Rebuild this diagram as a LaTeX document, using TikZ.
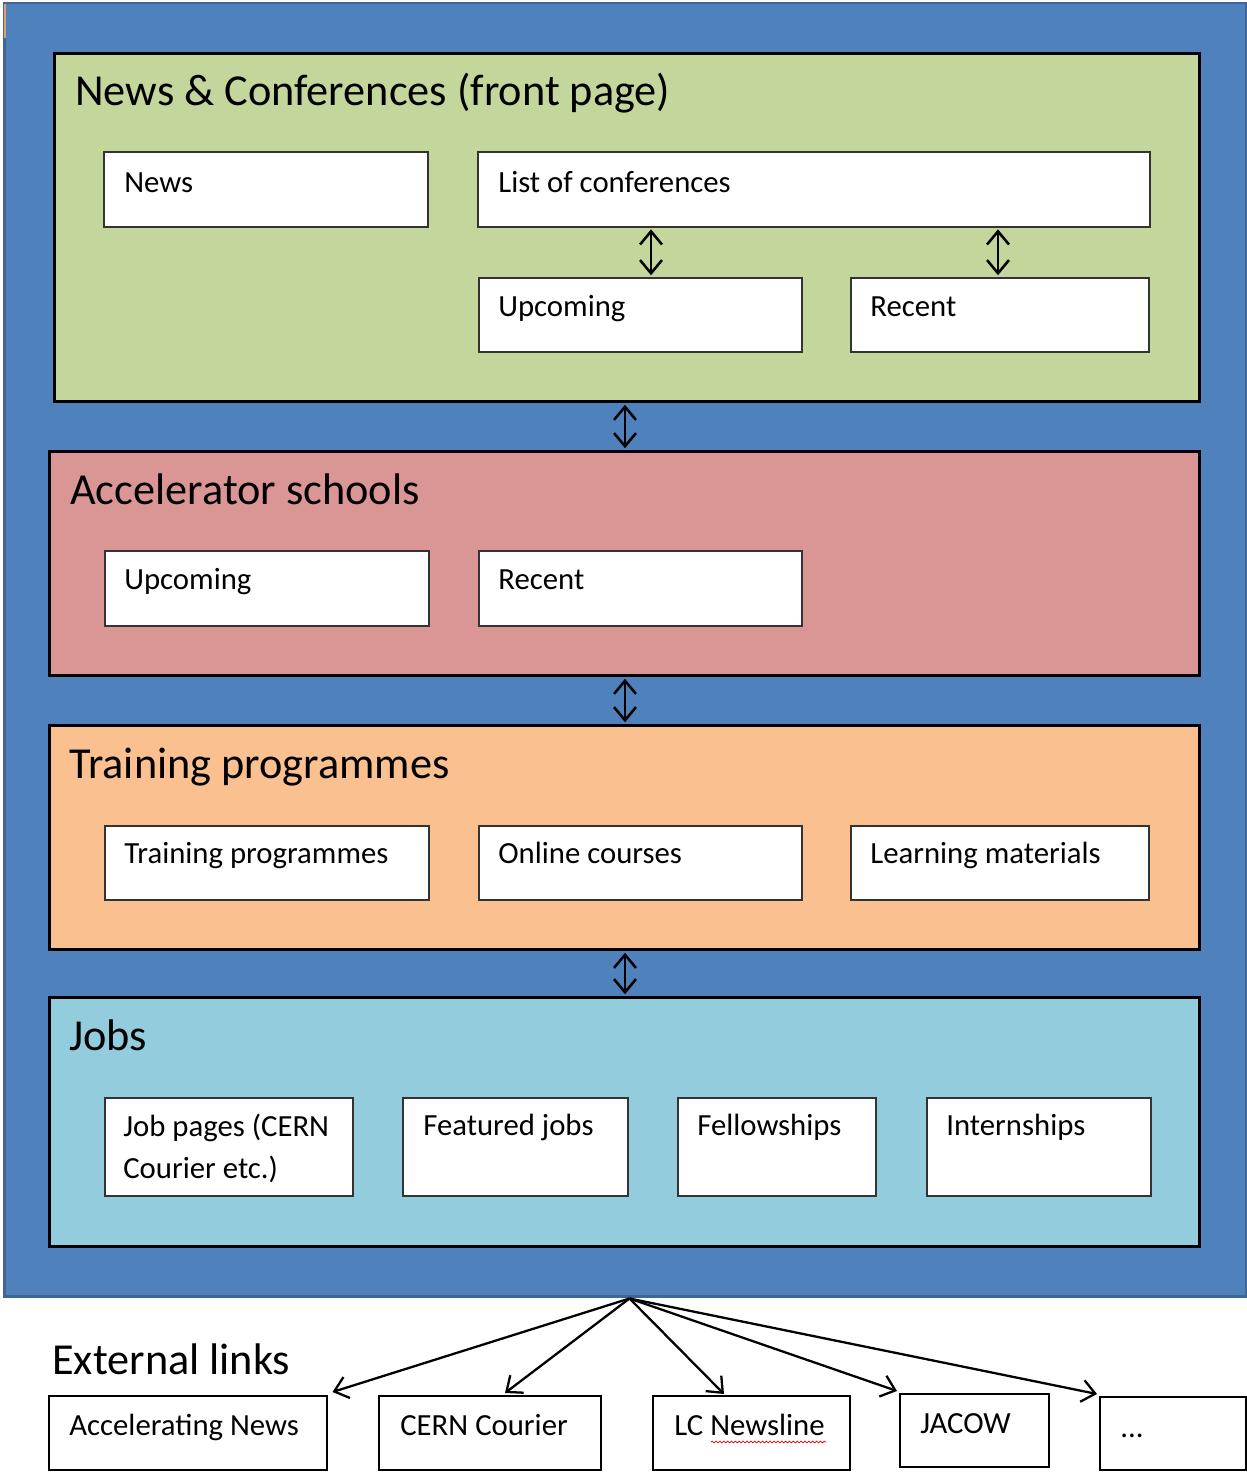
\documentclass[tikz,border=0pt]{standalone}
\usepackage{fontspec}
\setmainfont{Carlito}
\usetikzlibrary{arrows.meta,calc,decorations.pathmorphing}
\definecolor{bgblue}{HTML}{4F81BD}
\definecolor{bgedge}{HTML}{3F6695}
\definecolor{pgreen}{HTML}{C3D69B}
\definecolor{pred}{HTML}{D99694}
\definecolor{porange}{HTML}{FAC090}
\definecolor{pcyan}{HTML}{93CDDD}
\definecolor{tanmark}{HTML}{D9A46A}
\newlength{\pu}\setlength{\pu}{0.02cm}
\tikzset{
  panel/.style={draw=black, line width=1.7pt, rectangle, inner sep=0pt, anchor=north west},
  inbox/.style={draw=black!80, line width=0.9pt, fill=white, rectangle, inner sep=0pt, anchor=north west},
  extbox/.style={draw=black, line width=1.4pt, fill=white, rectangle, inner sep=0pt, anchor=north west},
  ttl/.style={anchor=base west, inner sep=0pt, font=\fontsize{25.2}{30}\selectfont},
  lbl/.style={anchor=base west, inner sep=0pt, font=\fontsize{17.5}{21}\selectfont},
  dbl/.style={{Straight Barb[length=7.5pt,width=12.5pt]}-{Straight Barb[length=7.5pt,width=12.5pt]}, line width=1.45pt, shorten <=1pt, shorten >=1pt},
  ext/.style={-{Straight Barb[length=7.5pt,width=12.5pt]}, line width=1.3pt}
}
\begin{document}
\begin{tikzpicture}[x=0.02cm,y=-0.02cm]
\useasboundingbox (0,0) rectangle (1247,1472);
% background
\node[draw=bgedge, fill=bgblue, line width=1.7pt, rectangle, inner sep=0pt, anchor=north west,
      minimum width=1241\pu, minimum height=1293\pu] (bg) at (3.5,1.5) {};
\draw[tanmark, line width=1.2pt] (5,4) -- (5,38);
% panels
\node[panel, fill=pgreen, minimum width=1145\pu, minimum height=348\pu] (green) at (53,52) {};
\node[panel, fill=pred, minimum width=1150\pu, minimum height=224\pu] (red) at (48,450) {};
\node[panel, fill=porange, minimum width=1150\pu, minimum height=224\pu] (orange) at (48,724) {};
\node[panel, fill=pcyan, minimum width=1150\pu, minimum height=249\pu] (jobs) at (48,996) {};
% titles
\node[ttl] (t1) at (75,105) {News \& Conferences (front page)};
\node[ttl] (t2) at (70,504) {Accelerator schools};
\node[ttl] (t3) at (69,778) {Training programmes};
\node[ttl] (t4) at (69,1050) {Jobs};
% inner boxes
\node[inbox, minimum width=324\pu, minimum height=75\pu] (news) at (103,151) {};
\node[inbox, minimum width=672\pu, minimum height=75\pu] (list) at (477,151) {};
\node[inbox, minimum width=323\pu, minimum height=74\pu] (up1) at (478,277) {};
\node[inbox, minimum width=298\pu, minimum height=74\pu] (rec1) at (850,277) {};
\node[inbox, minimum width=324\pu, minimum height=75\pu] (up2) at (104,550) {};
\node[inbox, minimum width=323\pu, minimum height=75\pu] (rec2) at (478,550) {};
\node[inbox, minimum width=324\pu, minimum height=74\pu] (tp) at (104,825) {};
\node[inbox, minimum width=323\pu, minimum height=74\pu] (oc) at (478,825) {};
\node[inbox, minimum width=298\pu, minimum height=74\pu] (lm) at (850,825) {};
\node[inbox, minimum width=248\pu, minimum height=98\pu] (jp) at (104,1097) {};
\node[inbox, minimum width=225\pu, minimum height=98\pu] (fj) at (402,1097) {};
\node[inbox, minimum width=198\pu, minimum height=98\pu] (fe) at (677,1097) {};
\node[inbox, minimum width=224\pu, minimum height=98\pu] (intern) at (926,1097) {};
% inner labels
\node[lbl] (lnews) at (124,192) {News};
\node[lbl] (llist) at (498,192) {List of conferences};
\node[lbl] (lup1) at (498,316) {Upcoming};
\node[lbl] (lrec1) at (870,316) {Recent};
\node[lbl] (lup2) at (124,589) {Upcoming};
\node[lbl] (lrec2) at (498,589) {Recent};
\node[lbl] (ltp) at (124,863) {Training programmes};
\node[lbl] (loc) at (498,863) {Online courses};
\node[lbl] (llm) at (870,863) {Learning materials};
\node[lbl] (ljp1) at (123,1136) {Job pages (CERN};
\node[lbl] (ljp2) at (123,1178) {Courier etc.)};
\node[lbl] (lfj) at (423,1135) {Featured jobs};
\node[lbl] (lfe) at (697,1135) {Fellowships};
\node[lbl] (lin) at (946,1135) {Internships};
% double arrows
\coordinate (xa) at (651,0);
\coordinate (xb) at (998,0);
\coordinate (xc) at (625,0);
\draw[dbl] (list.south -| xa) -- (up1.north -| xa);
\draw[dbl] (list.south -| xb) -- (rec1.north -| xb);
\draw[dbl] (green.south -| xc) -- (red.north -| xc);
\draw[dbl] (red.south -| xc) -- (orange.north -| xc);
\draw[dbl] (orange.south -| xc) -- (jobs.north -| xc);
% external links
\node[ttl] (t5) at (52,1374) {External links};
\node[extbox, minimum width=278\pu, minimum height=74\pu] (an) at (48,1395) {};
\node[extbox, minimum width=222\pu, minimum height=74\pu] (cc) at (378,1395) {};
\node[extbox, minimum width=197\pu, minimum height=74\pu] (lc) at (652,1395) {};
\node[extbox, minimum width=149\pu, minimum height=73\pu] (ja) at (899,1393) {};
\node[extbox, minimum width=146\pu, minimum height=73\pu] (dots) at (1099,1396) {};
\node[lbl] (lan) at (69,1435) {Accelerating News};
\node[lbl] (lcc) at (400,1435) {CERN Courier};
\node[lbl] (llc) at (674,1435) {LC Newsline};
\node[lbl] (lja) at (920,1433) {JACOW};
\node[lbl] (ldots) at (1120,1437) {...};
\draw[red!85!black, line width=0.4pt, decorate, decoration={snake, amplitude=0.5pt, segment length=2.2pt}]
  (711,1442) -- (826,1442);
% hub arrows
\coordinate (hub) at ($(bg.south)+(4,1)$);
\draw[ext] (hub) -- ($(an.north east)+(4,-3)$);
\draw[ext] (hub) -- ($(cc.north west)+(127,-2)$);
\draw[ext] (hub) -- ($(lc.north west)+(72,-1)$);
\draw[ext] (hub) -- ($(ja.north west)+(-2,-2)$);
\draw[ext] (hub) -- ($(dots.north west)+(-2,-2)$);
\end{tikzpicture}
\end{document}
